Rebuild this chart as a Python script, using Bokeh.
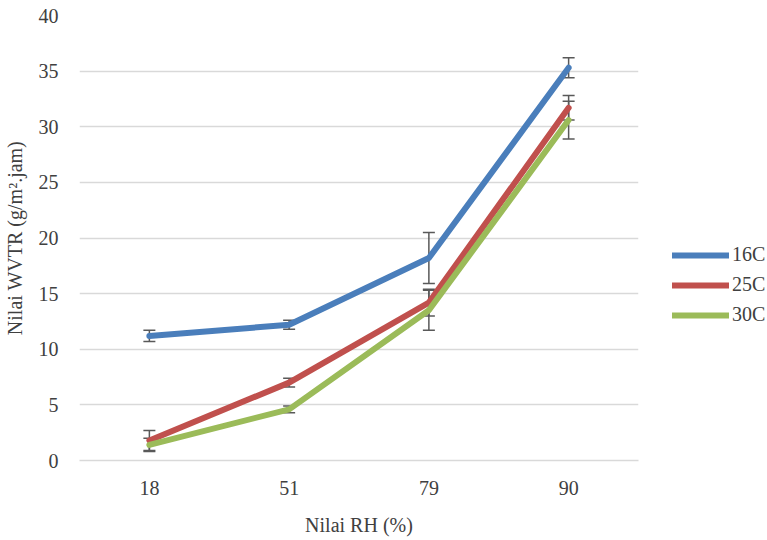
from bokeh.plotting import figure
from bokeh.models import ColumnDataSource, FactorRange, Range1d, Whisker, TeeHead, Legend, LegendItem, FixedTicker
from bokeh.embed import file_html
from bokeh.resources import INLINE

rh = ["18", "51", "79", "90"]
s16 = [11.2, 12.2, 18.2, 35.3]
e16 = [0.5, 0.4, 2.3, 0.9]
s25 = [1.8, 7.0, 14.2, 31.7]
e25 = [0.9, 0.4, 1.2, 1.1]
s30 = [1.4, 4.6, 13.5, 30.6]
e30 = [0.6, 0.3, 1.8, 1.7]
names = ["16C", "25C", "30C"]
colors = ["#4A7EBB", "#C0504D", "#9BBB59"]

FONT = "Times New Roman, Liberation Serif, serif"

p = figure(frame_width=559, frame_height=445, x_range=FactorRange(*rh, range_padding=0),
           y_range=Range1d(0, 40), output_backend="svg", toolbar_location=None,
           min_border_left=70, min_border_right=0, min_border_top=15, min_border_bottom=72)
p.outline_line_color = None
p.background_fill_color = "white"
p.border_fill_color = "white"

p.xgrid.grid_line_color = None
p.ygrid.grid_line_color = "#D9D9D9"
p.ygrid.grid_line_width = 1.3

xa = p.xaxis[0]
ya = p.yaxis[0]
ya.ticker = FixedTicker(ticks=[0, 5, 10, 15, 20, 25, 30, 35, 40])

for ax in (xa, ya):
    ax.major_tick_line_color = None
    ax.minor_tick_line_color = None
    ax.major_label_text_font = FONT
    ax.major_label_text_font_size = "20px"
    ax.major_label_text_color = "#404040"
    ax.axis_label_text_font = FONT
    ax.axis_label_text_font_size = "20px"
    ax.axis_label_text_font_style = "normal"
    ax.axis_label_text_color = "#404040"
ya.axis_line_color = None
xa.axis_line_color = "#D9D9D9"
xa.axis_line_width = 1.3
ya.major_label_standoff = 15
xa.major_label_standoff = 14
xa.axis_label = "Nilai RH (%)"
ya.axis_label = "Nilai WVTR (g/m\u00b2.jam)"
xa.axis_label_standoff = 16
ya.axis_label_standoff = 10

items = []
for name, vals, c in zip(names, [s16, s25, s30], colors):
    src = ColumnDataSource(dict(x=rh, y=vals))
    r = p.line("x", "y", source=src, line_color=c, line_width=6,
               line_join="round", line_cap="round")
    items.append(LegendItem(label=name, renderers=[r]))

for vals, errs in zip([s16, s25, s30], [e16, e25, e30]):
    src = ColumnDataSource(dict(x=rh,
                                lo=[v - e for v, e in zip(vals, errs)],
                                hi=[v + e for v, e in zip(vals, errs)]))
    w = Whisker(base="x", lower="lo", upper="hi", source=src,
                line_color="#595959", line_width=1.5,
                upper_head=TeeHead(size=12, line_color="#595959", line_width=1.5),
                lower_head=TeeHead(size=12, line_color="#595959", line_width=1.5))
    p.add_layout(w)

legend = Legend(items=items, location=(34, 134), orientation="vertical",
                label_text_font=FONT, label_text_font_size="20px",
                label_text_color="#404040",
                glyph_width=57, glyph_height=20, spacing=7, label_standoff=3,
                border_line_color=None, background_fill_alpha=0, padding=0, margin=0)
p.add_layout(legend, "right")

open("out.html", "w").write(file_html(p, INLINE))
